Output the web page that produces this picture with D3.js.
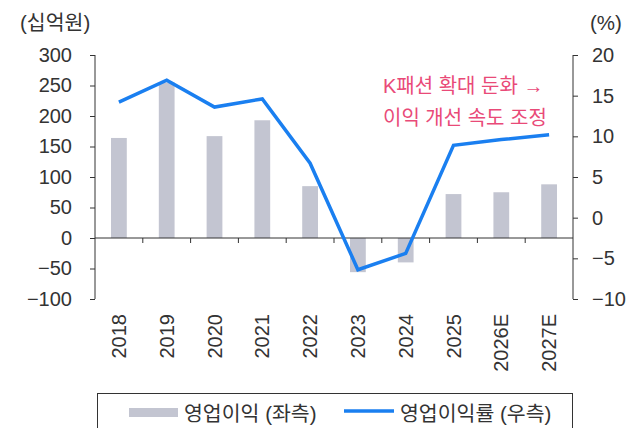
<!DOCTYPE html>
<html>
<head>
<meta charset="utf-8">
<script src="https://cdn.jsdelivr.net/npm/d3@7"></script>
<style>
  body { margin: 0; background: #fff; }
  svg text { font-family: "Liberation Sans", "Noto Sans CJK KR", sans-serif; fill: #333; }
</style>
</head>
<body>
<div id="chart"></div>
<script>
// data
let years = ['2018', '2019', '2020', '2021', '2022', '2023', '2024', '2025', '2026E', '2027E'];
let opProfit = [164, 255, 167, 193, 85, -56, -40, 72, 75, 88];          // 십억원, left axis
let opMargin = [14.2, 16.9, 13.6, 14.6, 6.7, -6.4, -4.4, 8.9, 9.6, 10.2]; // %, right axis
let leftTicks = [300, 250, 200, 150, 100, 50, 0, -50, -100];
let rightTicks = [20, 15, 10, 5, 0, -5, -10];
let noteLines = ['K패션 확대 둔화 →', '이익 개선 속도 조정'];

let width = 642, height = 428;
let margin = {top: 55, right: 69, bottom: 129, left: 95};
let innerW = width - margin.left - margin.right;
let innerH = height - margin.top - margin.bottom;

let svg = d3.select('#chart').append('svg')
    .attr('width', width)
    .attr('height', height);

let plot = svg.append('g')
    .attr('transform', 'translate(' + margin.left + ',' + margin.top + ')');

let x = d3.scaleBand().domain(years).range([0, innerW]);
let yL = d3.scaleLinear().domain([-100, 300]).range([innerH, 0]);
let yR = d3.scaleLinear().domain([-10, 20]).range([innerH, 0]);

// bars
let barW = x.bandwidth() * 0.33;
plot.selectAll('rect.bar')
    .data(years)
    .enter().append('rect')
    .attr('class', 'bar')
    .attr('fill', '#c3c5d1')
    .attr('x', (d) => x(d) + (x.bandwidth() - barW) / 2)
    .attr('width', barW)
    .attr('y', (d, i) => yL(Math.max(0, opProfit[i])))
    .attr('height', (d, i) => Math.abs(yL(opProfit[i]) - yL(0)));

// left axis
let leftAxis = plot.append('g')
    .call(d3.axisLeft(yL).tickValues(leftTicks).tickSize(5).tickPadding(18)
        .tickFormat(d => d < 0 ? '\u2212' + Math.abs(d) : d));
// right axis
let rightAxis = plot.append('g')
    .attr('transform', 'translate(' + innerW + ',0)')
    .call(d3.axisRight(yR).tickValues(rightTicks).tickSize(5).tickPadding(14)
        .tickFormat(d => d < 0 ? '\u2212' + Math.abs(d) : d));

[leftAxis, rightAxis].forEach(a => {
    a.select('.domain').attr('stroke', '#333').attr('d', a === leftAxis
        ? 'M0,' + yL(300) + 'V' + yL(-100)
        : 'M0,' + yR(20) + 'V' + yR(-10));
    a.selectAll('.tick line').attr('stroke', '#333');
    a.selectAll('.tick text').attr('font-size', 20).attr('fill', '#333');
});

// category axis on zero line of the bars
let xAxis = plot.append('g')
    .attr('transform', 'translate(0,' + yL(0) + ')');
xAxis.append('line')
    .attr('x1', 0).attr('x2', innerW)
    .attr('stroke', '#333');
xAxis.selectAll('line.tk')
    .data(years.slice(1))
    .enter().append('line')
    .attr('class', 'tk')
    .attr('x1', d => x(d)).attr('x2', d => x(d))
    .attr('y1', 0).attr('y2', 5)
    .attr('stroke', '#333');

// rotated year labels below the plot
plot.selectAll('text.year')
    .data(years)
    .enter().append('text')
    .attr('class', 'year')
    .attr('font-size', 20)
    .attr('text-anchor', 'end')
    .attr('dy', '0.35em')
    .attr('transform', d => 'translate(' + (x(d) + x.bandwidth() / 2) + ',' + (innerH + 15) + ') rotate(-90)')
    .text(d => d);

// margin line
let line = d3.line()
    .x((d, i) => x(years[i]) + x.bandwidth() / 2)
    .y(d => yR(d));
plot.append('path')
    .datum(opMargin)
    .attr('fill', 'none')
    .attr('stroke', '#1a7ff0')
    .attr('stroke-width', 3.5)
    .attr('stroke-linejoin', 'miter')
    .attr('d', line);

// unit labels
svg.append('text').attr('x', 20).attr('y', 30).attr('font-size', 20.5).text('(십억원)');
svg.append('text').attr('x', 590).attr('y', 30).attr('font-size', 20.5).text('(%)');

// annotation
svg.selectAll('text.note')
    .data(noteLines)
    .enter().append('text')
    .attr('class', 'note')
    .attr('x', 383)
    .attr('y', (d, i) => 93 + i * 32)
    .attr('font-size', 20)
    .style('fill', '#e94a78')
    .text(d => d);

// legend
let legend = svg.append('g');
legend.append('rect')
    .attr('x', 97.5).attr('y', 393.5)
    .attr('width', 475).attr('height', 60)
    .attr('fill', 'none')
    .attr('stroke', '#333');
legend.append('rect')
    .attr('x', 129).attr('y', 408)
    .attr('width', 49).attr('height', 9)
    .attr('fill', '#c3c5d1');
legend.append('text')
    .attr('x', 184).attr('y', 421).attr('font-size', 20.5)
    .text('영업이익 (좌측)');
legend.append('line')
    .attr('x1', 344).attr('x2', 394)
    .attr('y1', 411).attr('y2', 411)
    .attr('stroke', '#1a7ff0').attr('stroke-width', 3.5);
legend.append('text')
    .attr('x', 400).attr('y', 421).attr('font-size', 20.5)
    .text('영업이익률 (우측)');
</script>
</body>
</html>
